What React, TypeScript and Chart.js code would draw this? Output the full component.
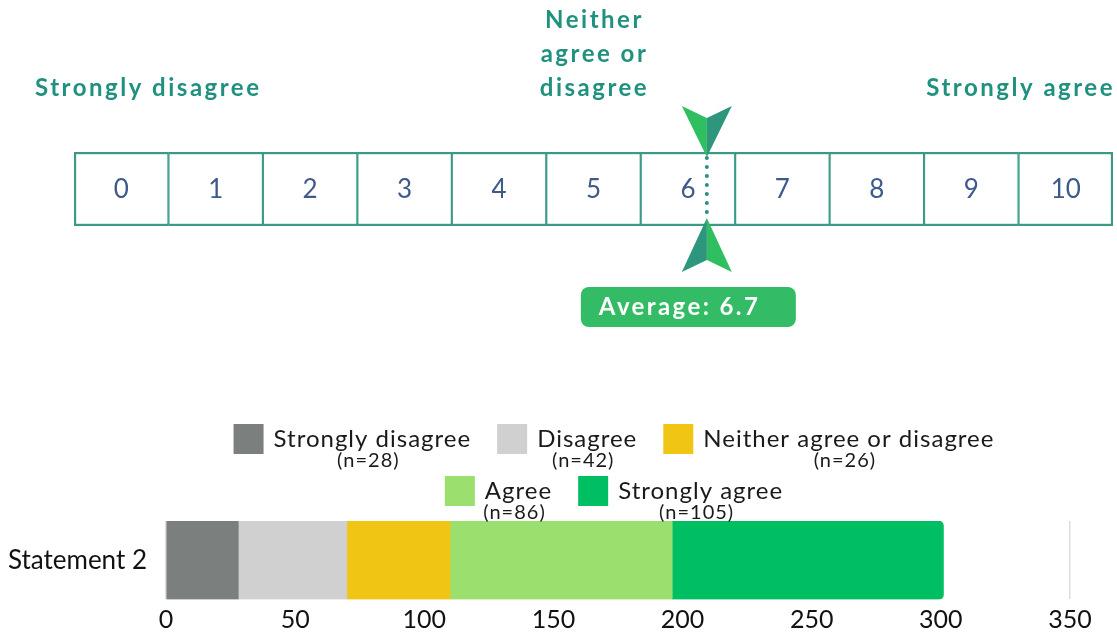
import React, { useEffect, useRef } from 'react';
import { Chart, registerables } from 'chart.js';
Chart.register(...registerables);

// ---- Data ----
const scalePoints = [0, 1, 2, 3, 4, 5, 6, 7, 8, 9, 10];
const averageScore = 6.7;
const averageLabel = 'Average: 6.7';
const headingLeft = ['Strongly disagree'];
const headingMiddle = ['Neither', 'agree or', 'disagree'];
const headingRight = ['Strongly agree'];

const statementLabels = ['Statement 2'];
const seriesNames = ['Strongly disagree', 'Disagree', 'Neither agree or disagree', 'Agree', 'Strongly agree'];
const seriesCounts = ['(n=28)', '(n=42)', '(n=26)', '(n=86)', '(n=105)'];
const seriesValues = [28, 42, 40, 86, 105];
const xAxisMin = 0;
const xAxisMax = 350;
const xAxisStep = 50;

// ---- Styles ----
const seriesColors = ['#7b807f', '#d0d0d0', '#f1c514', '#9be06f', '#00be62'];
const legendRows = [[0, 1, 2], [3, 4]];
const HEAD_TEAL = '#20917f';
const BOX_TEAL = '#3a9a86';
const NUM_BLUE = '#3e5a8a';
const ARROW_BRIGHT = '#2fbe60';
const ARROW_DARK = '#2e967d';
const AVG_GREEN = '#33bc65';
const FONT = 'Lato, "Open Sans", sans-serif';

const scalePlugin = {
  id: 'scaleDecor',
  afterDatasetsDraw(chart: any) {
    const ctx = chart.ctx;
    const area = chart.chartArea;
    const meta = chart.getDatasetMeta(0);
    ctx.save();
    // numbers inside boxes
    ctx.fillStyle = NUM_BLUE;
    ctx.font = `26px ${FONT}`;
    ctx.textAlign = 'center';
    ctx.textBaseline = 'middle';
    meta.data.forEach((el: any, i: number) => {
      ctx.fillText(String(scalePoints[i]), el.x, (el.y + el.base) / 2 + 1);
    });

    // headings
    ctx.fillStyle = HEAD_TEAL;
    ctx.font = `bold 24px ${FONT}`;
    (ctx as any).letterSpacing = '2.5px';
    const lineH = 34;
    const baseY = area.top - 64;
    ctx.textAlign = 'left';
    headingLeft.forEach((t, i) => ctx.fillText(t, area.left - 39, baseY - (headingLeft.length - 1 - i) * lineH));
    const midEl = meta.data[Math.floor(meta.data.length / 2)];
    ctx.textAlign = 'center';
    headingMiddle.forEach((t, i) => ctx.fillText(t, midEl.x + 1, baseY - (headingMiddle.length - 1 - i) * lineH));
    ctx.textAlign = 'right';
    headingRight.forEach((t, i) => ctx.fillText(t, area.right + 2, baseY - (headingRight.length - 1 - i) * lineH));
    (ctx as any).letterSpacing = '0px';

    // marker
    const mx = chart.scales.x.getPixelForValue(averageScore);
    const top = area.top;
    const bottom = area.bottom;
    const hw = 25;
    // dotted line
    ctx.strokeStyle = '#2a8f7b';
    ctx.lineWidth = 4;
    ctx.lineCap = 'round';
    ctx.setLineDash([0, 9]);
    ctx.beginPath();
    ctx.moveTo(mx, top + 6);
    ctx.lineTo(mx, bottom - 8);
    ctx.stroke();
    ctx.setLineDash([]);
    // top arrow
    ctx.fillStyle = ARROW_BRIGHT;
    ctx.beginPath();
    ctx.moveTo(mx - hw, top - 46);
    ctx.lineTo(mx, top - 34);
    ctx.lineTo(mx, top + 5);
    ctx.closePath();
    ctx.fill();
    ctx.fillStyle = ARROW_DARK;
    ctx.beginPath();
    ctx.moveTo(mx, top - 34);
    ctx.lineTo(mx + hw, top - 46);
    ctx.lineTo(mx, top + 5);
    ctx.closePath();
    ctx.fill();
    // bottom arrow
    ctx.fillStyle = ARROW_DARK;
    ctx.beginPath();
    ctx.moveTo(mx - hw, bottom + 46);
    ctx.lineTo(mx, bottom + 34);
    ctx.lineTo(mx, bottom - 8);
    ctx.closePath();
    ctx.fill();
    ctx.fillStyle = ARROW_BRIGHT;
    ctx.beginPath();
    ctx.moveTo(mx, bottom + 34);
    ctx.lineTo(mx + hw, bottom + 46);
    ctx.lineTo(mx, bottom - 8);
    ctx.closePath();
    ctx.fill();

    // average badge
    const bx = mx - 126;
    const by = bottom + 61;
    ctx.fillStyle = AVG_GREEN;
    ctx.beginPath();
    (ctx as any).roundRect(bx, by, 215, 40, 8);
    ctx.fill();
    ctx.fillStyle = '#ffffff';
    ctx.font = `bold 24px ${FONT}`;
    (ctx as any).letterSpacing = '2.4px';
    ctx.textAlign = 'left';
    ctx.textBaseline = 'middle';
    ctx.fillText(averageLabel, bx + 18, by + 20);
    (ctx as any).letterSpacing = '0px';
    ctx.restore();
  },
};

const legendPlugin = {
  id: 'customLegend',
  afterDraw(chart: any) {
    const ctx = chart.ctx;
    const area = chart.chartArea;
    const centerX = (area.left + area.right) / 2 - 4;
    const boxSize = 30;
    const boxGap = 10;
    const itemGap = 26;
    const rowTops = [area.top - 97, area.top - 45];
    const mainFont = `24px ${FONT}`;
    const subFont = `20px ${FONT}`;
    ctx.save();
    ctx.textBaseline = 'middle';
    legendRows.forEach((row, r) => {
      ctx.font = mainFont;
      (ctx as any).letterSpacing = '1px';
      const widths = row.map((i) => ctx.measureText(seriesNames[i]).width);
      const total = widths.reduce((a, w) => a + boxSize + boxGap + w, 0) + itemGap * (row.length - 1);
      let x = centerX - total / 2;
      const top = rowTops[r];
      row.forEach((i, k) => {
        ctx.fillStyle = seriesColors[i];
        ctx.fillRect(x, top, boxSize, boxSize);
        const tx = x + boxSize + boxGap;
        ctx.fillStyle = '#1a1a1a';
        ctx.font = mainFont;
        (ctx as any).letterSpacing = '1px';
        ctx.textAlign = 'left';
        ctx.fillText(seriesNames[i], tx, top + boxSize / 2);
        ctx.font = subFont;
        (ctx as any).letterSpacing = '1px';
        ctx.textAlign = 'center';
        ctx.fillText(seriesCounts[i], tx + widths[k] / 2 - 4, top + boxSize / 2 + 22);
        x = tx + widths[k] + itemGap;
      });
    });
    (ctx as any).letterSpacing = '0px';
    ctx.restore();
  },
};

export default function App() {
  const topRef = useRef<HTMLCanvasElement>(null);
  const botRef = useRef<HTMLCanvasElement>(null);

  useEffect(() => {
    const last = scalePoints.length - 1;
    const topChart = new Chart(topRef.current as HTMLCanvasElement, {
      type: 'bar',
      data: {
        datasets: [
          {
            data: scalePoints.map((p) => ({ x: p + 0.5, y: 1 })),
            backgroundColor: '#ffffff',
            borderColor: BOX_TEAL,
            borderWidth: (c: any) => ({
              top: 2.5,
              bottom: 2.5,
              left: c.dataIndex === 0 ? 2.5 : 1.4,
              right: c.dataIndex === last ? 2.5 : 1.4,
            }),
            borderSkipped: false,
            barPercentage: 1,
            categoryPercentage: 1,
          } as any,
        ],
      },
      options: {
        animation: false,
        responsive: false,
        events: [],
        layout: { padding: { left: 74, right: 4, top: 152, bottom: 174 } },
        plugins: { legend: { display: false }, tooltip: { enabled: false } },
        scales: {
          x: { type: 'linear', min: 0, max: scalePoints.length, offset: false, display: false } as any,
          y: { min: 0, max: 1, display: false },
        },
      },
      plugins: [scalePlugin],
    });

    const nSeries = seriesNames.length;
    const botChart = new Chart(botRef.current as HTMLCanvasElement, {
      type: 'bar',
      data: {
        labels: statementLabels,
        datasets: seriesNames.map((name, i) => ({
          label: name,
          data: [seriesValues[i]],
          backgroundColor: seriesColors[i],
          borderWidth: 0,
          borderRadius: i === nSeries - 1 ? 5 : 0,
          borderSkipped: 'start',
          barPercentage: 1,
          categoryPercentage: 1,
        })) as any,
      },
      options: {
        indexAxis: 'y',
        animation: false,
        responsive: false,
        events: [],
        layout: { padding: { left: 0, right: 47, top: 121, bottom: 0 } },
        plugins: { legend: { display: false }, tooltip: { enabled: false } },
        scales: {
          x: {
            stacked: true,
            min: xAxisMin,
            max: xAxisMax,
            ticks: { stepSize: xAxisStep, color: '#111111', font: { family: FONT, size: 25 }, padding: 6 },
            grid: { color: '#dddddd', drawTicks: false, lineWidth: 1.5 },
            border: { display: false },
            afterFit: (s: any) => {
              s.height = 34;
            },
          },
          y: {
            stacked: true,
            ticks: { color: '#111111', font: { family: FONT, size: 26 }, padding: 19 },
            grid: { display: false, drawTicks: false },
            border: { display: false },
            afterFit: (s: any) => {
              s.width = 166;
            },
          },
        },
      },
      plugins: [legendPlugin],
    });

    return () => {
      topChart.destroy();
      botChart.destroy();
    };
  }, []);

  return (
    <div style={{ position: 'absolute', left: 0, top: 0, width: 1117, height: 634, background: '#ffffff' }}>
      <canvas ref={topRef} width={1117} height={400} style={{ position: 'absolute', left: 0, top: 0 }} />
      <canvas ref={botRef} width={1117} height={234} style={{ position: 'absolute', left: 0, top: 400 }} />
    </div>
  );
}
